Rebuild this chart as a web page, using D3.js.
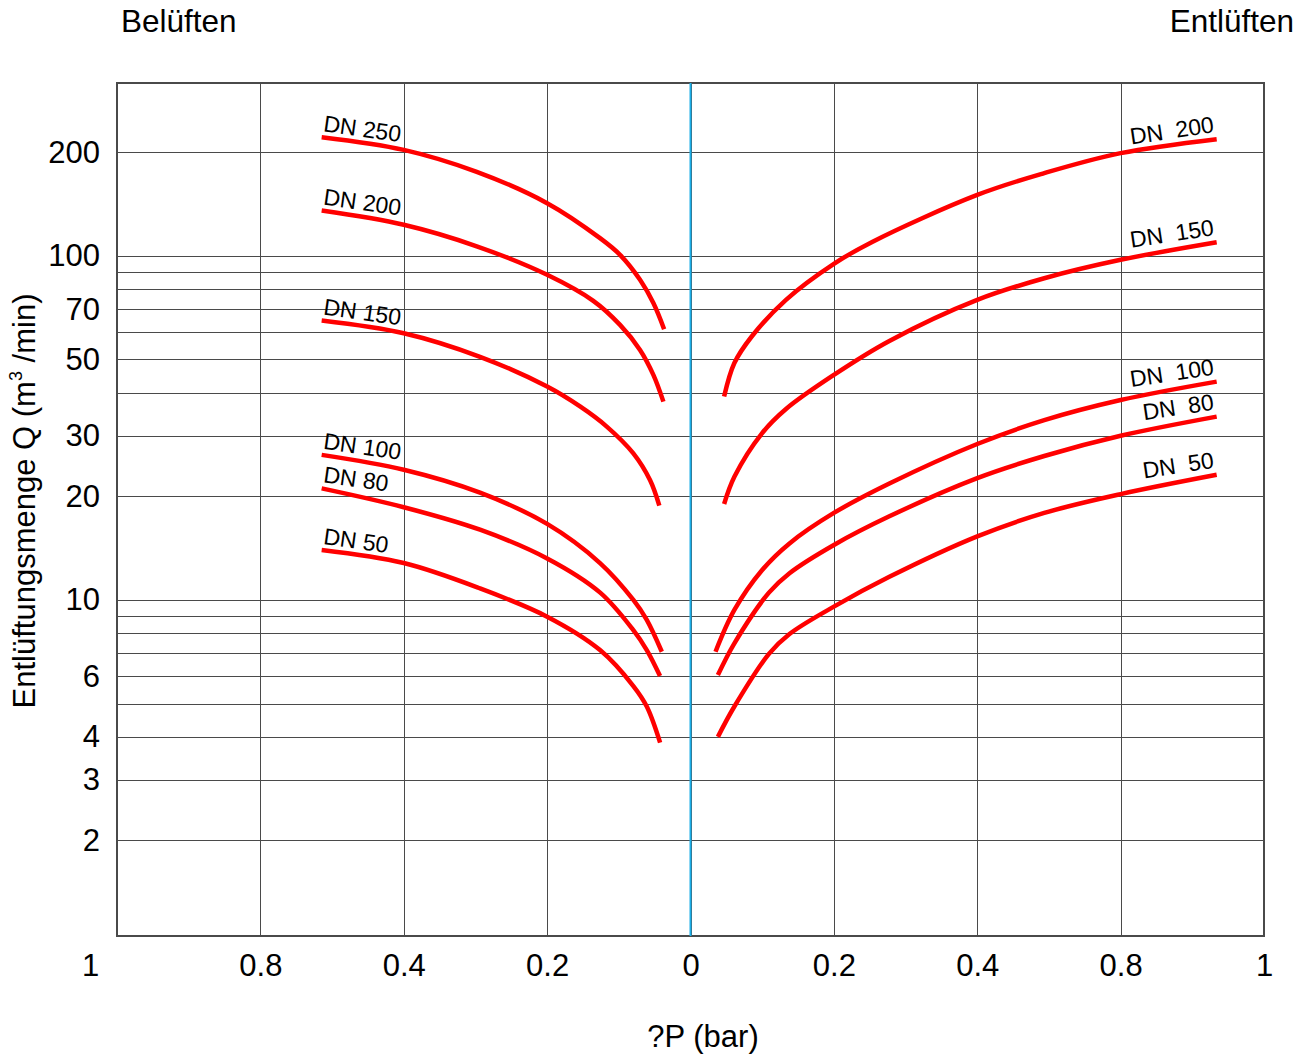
<!DOCTYPE html>
<html>
<head>
<meta charset="utf-8">
<script src="https://cdn.jsdelivr.net/npm/d3@7/dist/d3.min.js"></script>
<style>
  html, body { margin: 0; padding: 0; background: #fff; }
  svg { display: block; font-family: "Liberation Sans", Arial, sans-serif; }
</style>
</head>
<body>
<svg id="chart" width="1309" height="1058"></svg>
<script>
// ---------- data ----------
const xTicks = [-1, -0.8, -0.4, -0.2, 0, 0.2, 0.4, 0.8, 1];   // ΔP (bar), left = Belüften
const yGrid = [2, 3, 4, 5, 6, 7, 8, 9, 10, 20, 30, 40, 50, 60, 70, 80, 90, 100, 200];
const yLabels = [2, 3, 4, 6, 10, 20, 30, 50, 70, 100, 200];

// Belüften (left side) : [ΔP bar, Q m³/min]
const belDN250 = [[0.629,221.3],[0.4,203.3],[0.2982,175.5],[0.2,142.3],[0.1262,112.6],[0.0983,100.7],[0.0704,85.2],[0.0518,72.9],[0.0368,61.2]];
const belDN200 = [[0.629,135.4],[0.4,123.1],[0.2982,106.6],[0.2,88.1],[0.1356,74.0],[0.0983,63.0],[0.0704,53.3],[0.0518,45.1],[0.0378,37.7]];
const belDN150 = [[0.629,64.9],[0.4,59.6],[0.2936,50.9],[0.2,41.7],[0.1541,36.5],[0.1168,31.9],[0.080,26.7],[0.0565,22.3],[0.0435,18.8]];
const belDN100 = [[0.629,26.4],[0.4,23.9],[0.2936,20.5],[0.2,16.63],[0.1262,12.8],[0.0797,10.0],[0.061,8.75],[0.040,7.07]];
const belDN80  = [[0.629,21.1],[0.4,18.6],[0.2936,16.0],[0.2,13.2],[0.126,10.5],[0.080,8.18],[0.061,7.15],[0.0425,6.01]];
const belDN50  = [[0.629,13.97],[0.4,12.8],[0.2936,10.8],[0.2,8.94],[0.1262,7.15],[0.0797,5.62],[0.061,4.90],[0.0424,3.85]];

// Entlüften (right side) : [ΔP bar, Q m³/min]
const entDN200 = [[0.0469,39.0],[0.0612,48.8],[0.0854,58.3],[0.1332,74.5],[0.2,94.8],[0.2534,109.8],[0.4,150.4],[0.587,174.0],[0.8,198.9],[0.934,218.4]];
const entDN150 = [[0.0469,19.0],[0.0612,22.8],[0.0997,30.5],[0.1332,35.9],[0.2,45.1],[0.2774,56.6],[0.4,74.5],[0.587,86.1],[0.8,97.4],[0.934,109.6]];
const entDN100 = [[0.0349,7.07],[0.0612,9.35],[0.0997,12.2],[0.1381,14.6],[0.2,17.9],[0.2774,21.8],[0.4,28.4],[0.587,33.3],[0.8,38.1],[0.934,43.1]];
const entDN80  = [[0.0382,6.05],[0.0612,7.48],[0.1094,10.5],[0.1381,11.96],[0.2,14.45],[0.2774,17.5],[0.4,22.6],[0.587,26.2],[0.8,30.0],[0.934,34.1]];
const entDN50  = [[0.0382,4.00],[0.0612,4.90],[0.1094,6.97],[0.1381,7.96],[0.2,9.56],[0.2774,11.67],[0.4,15.3],[0.587,17.9],[0.8,20.3],[0.934,23.1]];

const belSeries = [
  {name: "DN 250", values: belDN250}, {name: "DN 200", values: belDN200},
  {name: "DN 150", values: belDN150}, {name: "DN 100", values: belDN100},
  {name: "DN 80", values: belDN80},   {name: "DN 50", values: belDN50}
];
const entSeries = [
  {name: "DN  200", values: entDN200}, {name: "DN  150", values: entDN150},
  {name: "DN  100", values: entDN100}, {name: "DN  80", values: entDN80},
  {name: "DN  50", values: entDN50}
];

// ---------- layout ----------
const L = 117, R = 1264, T = 83, B = 936;
const svg = d3.select("#chart");

const x = d3.scaleLinear()
  .domain(xTicks)
  .range(xTicks.map((d, i) => L + i * (R - L) / (xTicks.length - 1)));
const y = d3.scaleLog().domain([1.055, 318]).range([B, T]);

const gridColor = "#4a4a4a";

// y grid + labels
const yAxis = d3.axisLeft(y)
  .tickValues(yGrid)
  .tickSize(-(R - L))
  .tickPadding(17)
  .tickFormat(d => yLabels.includes(d) ? String(d) : "");
const gy = svg.append("g").attr("transform", `translate(${L},0)`).call(yAxis);
gy.select(".domain").remove();
gy.selectAll(".tick line").attr("stroke", gridColor).attr("stroke-width", 1).attr("shape-rendering", "crispEdges");
gy.selectAll(".tick text").attr("font-size", 31).attr("fill", "#000")
  .attr("font-family", "Liberation Sans, Arial, sans-serif");

// x grid + labels
const xAxis = d3.axisBottom(x)
  .tickValues(xTicks)
  .tickSize(-(B - T))
  .tickPadding(18)
  .tickFormat(d => String(Math.abs(d)));
const gx = svg.append("g").attr("transform", `translate(0,${B})`).call(xAxis);
gx.select(".domain").remove();
gx.selectAll(".tick line").attr("stroke", gridColor).attr("stroke-width", 1).attr("shape-rendering", "crispEdges");
gx.selectAll(".tick text").attr("font-size", 31).attr("fill", "#000")
  .attr("font-family", "Liberation Sans, Arial, sans-serif");
gx.selectAll(".tick text").filter(d => d === xTicks[0]).attr("dx", -27);

// frame
svg.append("rect").attr("x", L).attr("y", T).attr("width", R - L).attr("height", B - T)
  .attr("fill", "none").attr("stroke", gridColor).attr("stroke-width", 1.2).attr("shape-rendering", "crispEdges");

// centre line
svg.append("line").attr("x1", x(0)).attr("x2", x(0)).attr("y1", T).attr("y2", B)
  .attr("stroke", "#1aaee8").attr("stroke-width", 2);

// curves
const line = d3.line().curve(d3.curveCatmullRom.alpha(0.5));
const red = "#ff0000";

belSeries.forEach(s => {
  const pts = s.values.map(d => [x(-d[0]), y(d[1])]);
  svg.append("path").attr("d", line(pts)).attr("fill", "none")
    .attr("stroke", red).attr("stroke-width", 4.5);
  const p0 = pts[0];
  svg.append("text").attr("transform", `translate(${p0[0] + 1},${p0[1] - 6}) rotate(8)`)
    .attr("font-size", 23).attr("fill", "#000").text(s.name);
});

entSeries.forEach(s => {
  const pts = s.values.map(d => [x(d[0]), y(d[1])]);
  svg.append("path").attr("d", line(pts)).attr("fill", "none")
    .attr("stroke", red).attr("stroke-width", 4.5);
  const pe = pts[pts.length - 1];
  svg.append("text").attr("transform", `translate(${pe[0] - 2},${pe[1] - 7}) rotate(-8.5)`)
    .attr("text-anchor", "end").attr("font-size", 23).attr("fill", "#000")
    .attr("xml:space", "preserve").style("white-space", "pre").text(s.name);
});

// titles
svg.append("text").attr("x", 121).attr("y", 32).attr("font-size", 31.5).text("Belüften");
svg.append("text").attr("x", 1294).attr("y", 32).attr("font-size", 31.5).attr("text-anchor", "end").text("Entlüften");
svg.append("text").attr("x", 703).attr("y", 1047).attr("font-size", 31).attr("text-anchor", "middle").text("?P (bar)");

const yt = svg.append("text").attr("transform", "translate(35,501) rotate(-90)")
  .attr("font-size", 31).attr("text-anchor", "middle").style("white-space", "pre");
yt.append("tspan").text("Entlüftungsmenge Q (m");
yt.append("tspan").attr("font-size", 18).attr("dy", -13).text("3");
yt.append("tspan").attr("dy", 13).text(" /min)");
</script>
</body>
</html>
